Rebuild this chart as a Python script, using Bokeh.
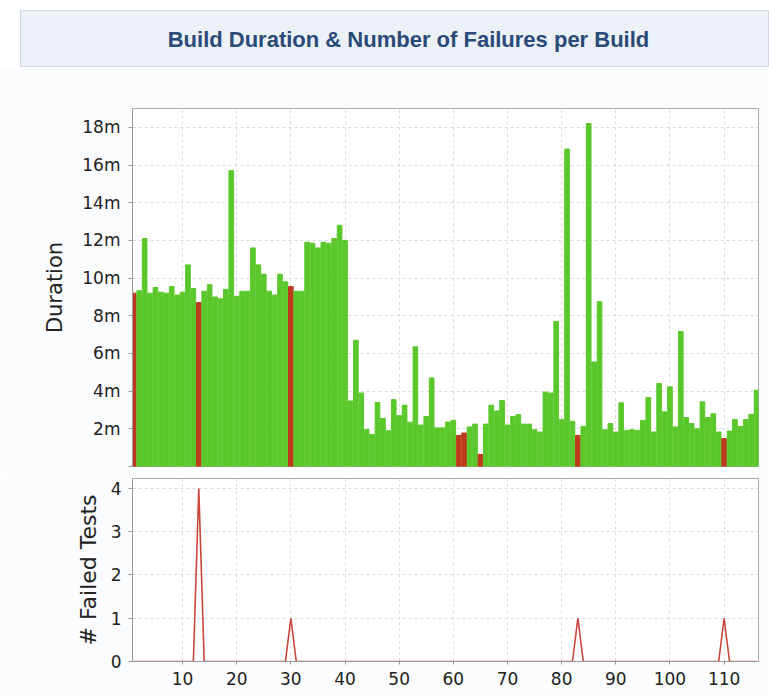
from bokeh.plotting import figure
from bokeh.layouts import column
from bokeh.models import ColumnDataSource, FixedTicker, Range1d, Label
from bokeh.embed import file_html
from bokeh.resources import INLINE

# ---------------- data ----------------
builds = list(range(1, 117))

# build duration in minutes
durations = [
    9.2, 9.33, 12.1, 9.2, 9.5, 9.25, 9.2, 9.55, 9.1, 9.25,
    10.7, 9.45, 8.7, 9.3, 9.65, 9.0, 8.9, 9.4, 15.7, 9.03,
    9.3, 9.3, 11.6, 10.7, 10.2, 9.3, 9.1, 10.2, 9.8, 9.55,
    9.3, 9.3, 11.9, 11.85, 11.6, 11.9, 11.85, 12.1, 12.8, 12.0,
    3.48, 6.7, 3.9, 1.96, 1.7, 3.4, 2.55, 1.9, 3.55, 2.7,
    3.25, 2.35, 6.35, 2.2, 2.65, 4.7, 2.05, 2.05, 2.36, 2.45,
    1.65, 1.78, 2.1, 2.25, 0.64, 2.25, 3.25, 2.95, 3.5, 2.2,
    2.65, 2.75, 2.25, 2.25, 1.95, 1.83, 3.95, 3.9, 7.7, 2.5,
    16.85, 2.4, 1.65, 2.13, 18.2, 5.55, 8.75, 1.95, 2.28, 1.83,
    3.38, 1.92, 1.95, 1.92, 2.45, 3.66, 1.83, 4.4, 2.9, 4.23,
    2.1, 7.16, 2.6, 2.28, 2.0, 3.43, 2.6, 2.8, 1.83, 1.48,
    1.88, 2.49, 2.13, 2.49, 2.77, 4.05,
]

# builds that failed (red bars)
failed_builds = [1, 13, 30, 61, 62, 65, 83, 110]

# number of failed tests per build
failed_tests = [
    0, 0, 0, 0, 0, 0, 0, 0, 0, 0,
    0, 0, 4, 0, 0, 0, 0, 0, 0, 0,
    0, 0, 0, 0, 0, 0, 0, 0, 0, 1,
    0, 0, 0, 0, 0, 0, 0, 0, 0, 0,
    0, 0, 0, 0, 0, 0, 0, 0, 0, 0,
    0, 0, 0, 0, 0, 0, 0, 0, 0, 0,
    0, 0, 0, 0, 0, 0, 0, 0, 0, 0,
    0, 0, 0, 0, 0, 0, 0, 0, 0, 0,
    0, 0, 1, 0, 0, 0, 0, 0, 0, 0,
    0, 0, 0, 0, 0, 0, 0, 0, 0, 0,
    0, 0, 0, 0, 0, 0, 0, 0, 0, 1,
    0, 0, 0, 0, 0, 0,
]

duration_ticks = [0, 2, 4, 6, 8, 10, 12, 14, 16, 18]
duration_labels = ["", "2m", "4m", "6m", "8m", "10m", "12m", "14m", "16m", "18m"]
fail_ticks = [0, 1, 2, 3, 4]
build_ticks = [10, 20, 30, 40, 50, 60, 70, 80, 90, 100, 110]

title_text = "Build Duration & Number of Failures per Build"

# ---------------- styles ----------------
GREEN = "#5ac82b"
RED = "#bd3b1c"
LINE_RED = "#c9473a"
GRID = "#dcdcdc"
AXIS = "#9a9a9a"
PANEL_BG = "#fbfcfd"
TICK_FONT = "DejaVu Sans"
TICK_SIZE = "17px"
W = 769

colors = [RED if b in failed_builds else GREEN for b in builds]
src = ColumnDataSource(dict(build=builds, dur=durations, color=colors))

x_range = Range1d(0.76, 116.35)


def style(p):
    p.outline_line_color = "#ababab"
    p.background_fill_color = "white"
    p.border_fill_color = PANEL_BG
    for ax in p.yaxis:
        ax.axis_line_color = AXIS
        ax.major_tick_line_color = AXIS
        ax.minor_tick_line_color = None
        ax.major_tick_out = 4
        ax.major_tick_in = 0
        ax.major_label_text_font = TICK_FONT
        ax.major_label_text_font_size = TICK_SIZE
        ax.major_label_text_color = "#222222"
        ax.axis_label_text_font = TICK_FONT
        ax.axis_label_text_font_style = "normal"
        ax.axis_label_text_color = "#222222"
    p.xgrid.grid_line_color = GRID
    p.xgrid.grid_line_dash = "3 3"
    p.ygrid.grid_line_color = GRID
    p.ygrid.grid_line_dash = "3 3"


# ---------------- header band ----------------
p0 = figure(width=W, height=67, x_range=Range1d(0, 1), y_range=Range1d(0, 1),
            output_backend="svg", toolbar_location=None,
            min_border_left=20, min_border_right=0,
            min_border_top=10, min_border_bottom=0)
p0.axis.visible = False
p0.grid.visible = False
p0.background_fill_color = "#ecf1f7"
p0.border_fill_color = "white"
p0.outline_line_color = "#d0d9e3"
p0.add_layout(Label(x=0.518, y=0.5, text=title_text, text_align="center",
                    text_baseline="middle", text_font="Liberation Sans",
                    text_font_style="bold", text_font_size="22px",
                    text_color="#2a4a78"))

# ---------------- top chart ----------------
p1 = figure(width=W, height=411, x_range=x_range, y_range=Range1d(0, 19.0),
            output_backend="svg", toolbar_location=None,
            min_border_left=132, min_border_right=11,
            min_border_top=41, min_border_bottom=12)
p1.vbar(x="build", top="dur", width=0.86, color="color", source=src)
p1.yaxis.ticker = FixedTicker(ticks=duration_ticks)
p1.yaxis.major_label_overrides = {t: l for t, l in zip(duration_ticks, duration_labels)}
p1.yaxis.axis_label = "Duration"
p1.yaxis.axis_label_text_font_size = "21px"
p1.yaxis.axis_label_standoff = 12
p1.yaxis.major_label_standoff = 8
p1.xaxis.visible = False
p1.xgrid.ticker = FixedTicker(ticks=build_ticks)
style(p1)

# ---------------- bottom chart ----------------
p2 = figure(width=W, height=217, x_range=x_range, y_range=Range1d(0, 4.23),
            output_backend="svg", toolbar_location=None,
            min_border_left=132, min_border_right=11,
            min_border_top=0, min_border_bottom=34)
p2.line(builds, failed_tests, color=LINE_RED, line_width=1.6)
p2.yaxis.ticker = FixedTicker(ticks=fail_ticks)
p2.yaxis.axis_label = "# Failed Tests"
p2.yaxis.axis_label_text_font_size = "22px"
p2.yaxis.axis_label_standoff = 7
p2.yaxis.major_label_standoff = 7
p2.xaxis.ticker = FixedTicker(ticks=build_ticks)
p2.xaxis.axis_line_color = AXIS
p2.xaxis.major_tick_line_color = AXIS
p2.xaxis.minor_tick_line_color = None
p2.xaxis.major_tick_out = 3
p2.xaxis.major_tick_in = 0
p2.xaxis.major_label_standoff = 7
p2.xaxis.major_label_text_font = TICK_FONT
p2.xaxis.major_label_text_font_size = TICK_SIZE
p2.xaxis.major_label_text_color = "#222222"
style(p2)

layout = column(p0, column(p1, p2, spacing=0), spacing=0)

open("out.html", "w").write(file_html(layout, INLINE))
